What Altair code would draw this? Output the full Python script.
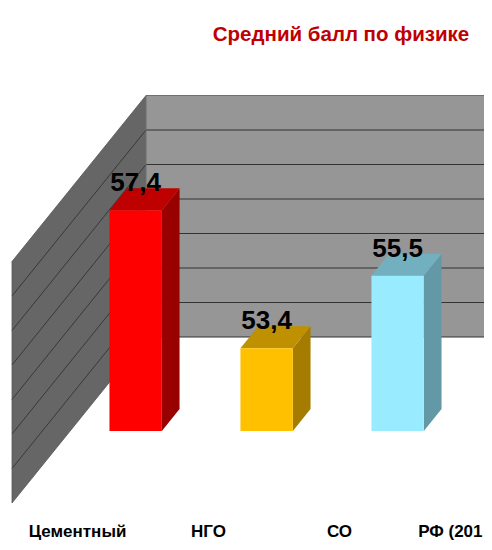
import altair as alt
import pandas as pd

categories = ["Цементный", "НГО", "СО"]
clipped_category = "РФ (201"
values = [57.4, 53.4, 55.5]
value_labels = ["57,4", "53,4", "55,5"]
gridlines = [51, 52, 53, 54, 55, 56, 57, 58]
title_text = "Средний балл по физике"
front_colors = ["#ff0000", "#ffc000", "#99ebff"]
top_colors = ["#bf0000", "#bf9000", "#73b0bf"]
side_colors = ["#990000", "#a67c00", "#6399a6"]

# oblique projection: depth 0 = front of floor, depth 1 = back wall
DX = 134 / 131
DY = 166 / 34.5
BASE = 51
TOP = 58
LEFT = -0.5
RIGHT = 3.5
HALF = 0.2
D0, D1 = 0.434, 0.566
W, H = 476, 534
FONT = "Liberation Sans"

xs = alt.Scale(domain=[(8 - 77.5) / 131, (8 + W - 77.5) / 131], nice=False, zero=False)
ys = alt.Scale(domain=[BASE + (503 - (8 + H)) / 34.5, BASE + (503 - 8) / 34.5], nice=False, zero=False)
X = lambda f="x": alt.X(f"{f}:Q", scale=xs, axis=None)
Y = lambda f="y": alt.Y(f"{f}:Q", scale=ys, axis=None)


def px(i, d):
    return i + d * DX


def py(v, d):
    return v + d * DY


def area(rows, color):
    df = pd.DataFrame(rows, columns=["x", "lo", "hi"])
    return alt.Chart(df).mark_area(color=color, clip=True, orient="vertical").encode(
        x=X(), y=Y("lo"), y2="hi"
    )


def rules(rows, color, width):
    df = pd.DataFrame(rows, columns=["x", "x2", "y", "y2"])
    return alt.Chart(df).mark_rule(color=color, strokeWidth=width, clip=True).encode(
        x=X(), x2="x2:Q", y=Y(), y2="y2:Q"
    )


layers = []
# back wall
layers.append(area([[px(LEFT, 1), py(TOP, 1), py(BASE, 1)], [px(RIGHT, 1), py(TOP, 1), py(BASE, 1)]], "#969696"))
# left wall
layers.append(area([[px(LEFT, 0), py(TOP, 0), py(BASE, 0)], [px(LEFT, 1), py(TOP, 1), py(BASE, 1)]], "#666666"))
grid_back = [[px(LEFT, 1), px(RIGHT, 1), py(g, 1), py(g, 1)] for g in gridlines]
grid_left = [[px(LEFT, 0), px(LEFT, 1), py(g, 0), py(g, 1)] for g in gridlines[1:-1]]
layers.append(rules(grid_back[:-1], "#333333", 1.2))
layers.append(rules(grid_back[-1:], "#707070", 1.2))
layers.append(rules(grid_left, "#333333", 0.9))
layers.append(rules([[px(LEFT, 0), px(LEFT, 1), py(TOP, 0), py(TOP, 1)],
                     [px(LEFT, 0), px(LEFT, 1), py(BASE, 0), py(BASE, 1)],
                     [px(LEFT, 0), px(LEFT, 0), py(BASE, 0), py(TOP, 0)]], "#555555", 0.8))
layers.append(rules([[px(LEFT, 1), px(LEFT, 1), py(BASE, 1), py(TOP, 1)]], "#6e6e6e", 1))

# bars
for i, v in enumerate(values):
    x0, x1 = i - HALF, i + HALF
    fx0, fx1 = px(x0, D0), px(x1, D0)
    bx0, bx1 = px(x0, D1), px(x1, D1)
    layers.append(area([[fx1, py(v, D0), py(BASE, D0)], [bx1, py(v, D1), py(BASE, D1)]], side_colors[i]))
    layers.append(area([[fx0, py(v, D0), py(v, D0)], [bx0, py(v, D1), py(v, D0)],
                        [fx1, py(v, D1), py(v, D0)], [bx1, py(v, D1), py(v, D1)]], top_colors[i]))
    layers.append(area([[fx0, py(v, D0), py(BASE, D0)], [fx1, py(v, D0), py(BASE, D0)]], front_colors[i]))

label_df = pd.DataFrame({
    "x": [px(i, D0) for i in range(3)],
    "y": [py(v, D0) for v in values],
    "t": value_labels,
})
layers.append(alt.Chart(label_df).mark_text(
    font=FONT, fontWeight="bold", fontSize=26, color="#000000", dy=-19, baseline="alphabetic", align="center"
).encode(x=X(), y=Y(), text="t:N"))

cat_y = BASE + (503 - 536.5) / 34.5
cat_df = pd.DataFrame({"x": list(range(3)), "y": [cat_y] * 3, "t": categories})
layers.append(alt.Chart(cat_df).mark_text(
    font=FONT, fontWeight="bold", fontSize=17, color="#000000", baseline="alphabetic", align="center"
).encode(x=X(), y=Y(), text="t:N"))
last_df = pd.DataFrame({"x": [3], "y": [cat_y], "t": [clipped_category]})
layers.append(alt.Chart(last_df).mark_text(
    font=FONT, fontWeight="bold", fontSize=17, color="#000000", baseline="alphabetic", align="right", dx=12
).encode(x=X(), y=Y(), text="t:N"))

title_df = pd.DataFrame({"t": [title_text]})
layers.append(alt.Chart(title_df).mark_text(
    font=FONT, fontWeight="bold", fontSize=20.5, color="#c00000", baseline="alphabetic", align="center"
).encode(x=alt.value(333), y=alt.value(33), text="t:N"))

chart = alt.layer(*layers).properties(
    width=W, height=H, padding=0, autosize=alt.AutoSizeParams(type="none")
).configure_view(stroke=None)
chart.save("out.html", embed_options={"renderer": "svg", "actions": False})
